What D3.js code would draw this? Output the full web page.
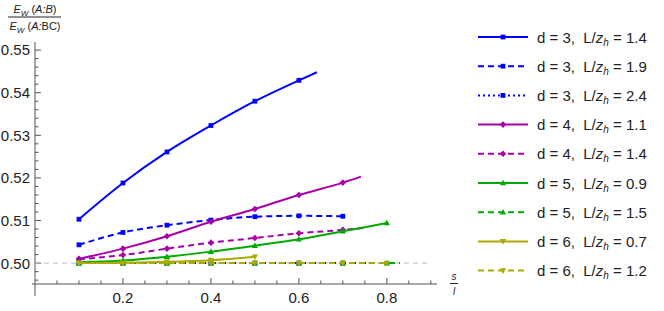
<!DOCTYPE html>
<html>
<head>
<meta charset="utf-8">
<script src="https://cdn.jsdelivr.net/npm/d3@7"></script>
<style>
  body { margin: 0; background: #fff; }
  svg { font-family: "Liberation Sans", Arial, sans-serif; }
  text { white-space: pre; }
</style>
</head>
<body>
<div id="chart"></div>
<script>
// sample points (s/l) where markers sit
const sGrid = [0.1, 0.2, 0.3, 0.4, 0.5, 0.6, 0.7, 0.8];

// E_W(A:B)/E_W(A:BC) at each sGrid point, plus the [s, value] where the curve stops
const d3L14 = [0.5103, 0.5188, 0.5261, 0.5323, 0.5380, 0.5429];
const d3L14End = [0.641, 0.5448];
const d3L19 = [0.5043, 0.5072, 0.5089, 0.5101, 0.5109, 0.5111, 0.5110];
const d3L19End = [0.7, 0.5110];
const d3L24 = [0.5000, 0.5000, 0.5000, 0.5000, 0.5000, 0.5000, 0.5000];
const d3L24End = [0.77, 0.5000];
const d4L11 = [0.5010, 0.5034, 0.5063, 0.5097, 0.5127, 0.5160, 0.5189];
const d4L11End = [0.741, 0.5203];
const d4L14 = [0.5009, 0.5019, 0.5034, 0.5048, 0.5059, 0.5070, 0.5078];
const d4L14End = [0.754, 0.5083];
const d5L09 = [0.5002, 0.5006, 0.5015, 0.5027, 0.5041, 0.5056, 0.5075, 0.5094];
const d5L09End = [0.8, 0.5094];
const d5L15 = [0.5000, 0.5000, 0.5000, 0.5000, 0.5000, 0.5000, 0.5000, 0.5000];
const d5L15End = [0.83, 0.5000];
const d6L07 = [0.5000, 0.5001, 0.5003, 0.5007, 0.5015];
const d6L07End = [0.5, 0.5015];
const d6L12 = [0.5000, 0.5000, 0.5000, 0.5000, 0.5000, 0.5000, 0.5000, 0.5000];
const d6L12End = [0.8, 0.5000];

const legendD = ["3", "3", "3", "4", "4", "5", "5", "6", "6"];
const legendL = ["1.4", "1.9", "2.4", "1.1", "1.4", "0.9", "1.5", "0.7", "1.2"];

const xTicks = [0.2, 0.4, 0.6, 0.8];
const yTicks = [0.50, 0.51, 0.52, 0.53, 0.54, 0.55];

const BLUE = "#0000ff", PURPLE = "#aa00aa", GREEN = "#00aa00", OLIVE = "#aaaa00";

const series = [
  { v: d3L14, end: d3L14End, color: BLUE, dash: null, marker: "square" },
  { v: d3L19, end: d3L19End, color: BLUE, dash: "6,4", marker: "square" },
  { v: d3L24, end: d3L24End, color: BLUE, dash: "2,3", marker: "square" },
  { v: d4L11, end: d4L11End, color: PURPLE, dash: null, marker: "diamond" },
  { v: d4L14, end: d4L14End, color: PURPLE, dash: "6,4", marker: "diamond" },
  { v: d5L09, end: d5L09End, color: GREEN, dash: null, marker: "up" },
  { v: d5L15, end: d5L15End, color: GREEN, dash: "6,4", marker: "up" },
  { v: d6L07, end: d6L07End, color: OLIVE, dash: null, marker: "down" },
  { v: d6L12, end: d6L12End, color: OLIVE, dash: "6,4", marker: "down" }
];

const W = 664, H = 311;
const svg = d3.select("#chart").append("svg")
  .attr("width", W).attr("height", H);

const x = d3.scaleLinear().domain([0, 0.914]).range([35, 437]);
const y = d3.scaleLinear().domain([0.4951, 0.5519]).range([284, 42]);

// axes
const axisColor = "#555";
svg.append("line").attr("x1", 35).attr("x2", 35).attr("y1", 42).attr("y2", 296)
  .attr("stroke", axisColor).attr("stroke-width", 1);
svg.append("line").attr("x1", 32).attr("x2", 437).attr("y1", 284).attr("y2", 284)
  .attr("stroke", axisColor).attr("stroke-width", 1);

// y ticks
const yMinor = d3.range(496, 551, 2).map(d => d / 1000);
svg.append("g").selectAll("line").data(yMinor).join("line")
  .attr("x1", 35).attr("x2", d => (Math.round(d * 1000) % 10 === 0 ? 41 : 38.5))
  .attr("y1", d => y(d)).attr("y2", d => y(d))
  .attr("stroke", axisColor);
svg.append("g").selectAll("text").data(yTicks).join("text")
  .attr("x", 30).attr("y", d => y(d)).attr("dy", "0.36em")
  .attr("text-anchor", "end").attr("font-size", 15).attr("fill", "#222")
  .text(d => d3.format(".2f")(d));

// x ticks
const xMinor = d3.range(1, 19).map(d => d * 0.05);
svg.append("g").selectAll("line").data(xMinor).join("line")
  .attr("x1", d => x(d)).attr("x2", d => x(d))
  .attr("y1", 284).attr("y2", d => (Math.abs(d * 5 - Math.round(d * 5)) < 1e-6 ? 278 : 280.5))
  .attr("stroke", axisColor);
svg.append("g").selectAll("text").data(xTicks).join("text")
  .attr("x", d => x(d)).attr("y", 303)
  .attr("text-anchor", "middle").attr("font-size", 15).attr("fill", "#222")
  .text(d => d3.format(".1f")(d));

// axis labels (fractions)
const yl = svg.append("g").attr("font-size", 11).attr("fill", "#222").attr("text-anchor", "middle");
const t1 = yl.append("text").attr("x", 35).attr("y", 13);
t1.append("tspan").attr("font-style", "italic").text("E");
t1.append("tspan").attr("font-style", "italic").attr("font-size", 8).attr("dy", 3).text("W");
t1.append("tspan").attr("dy", -3).text(" (");
t1.append("tspan").attr("font-style", "italic").text("A:B");
t1.append("tspan").text(")");
yl.append("line").attr("x1", 8).attr("x2", 61).attr("y1", 17).attr("y2", 17).attr("stroke", "#222");
const t2 = yl.append("text").attr("x", 35).attr("y", 30);
t2.append("tspan").attr("font-style", "italic").text("E");
t2.append("tspan").attr("font-style", "italic").attr("font-size", 8).attr("dy", 3).text("W");
t2.append("tspan").attr("dy", -3).text(" (");
t2.append("tspan").attr("font-style", "italic").text("A:");
t2.append("tspan").text("BC)");

const xl = svg.append("g").attr("font-size", 10).attr("fill", "#222").attr("font-style", "italic")
  .attr("text-anchor", "middle");
xl.append("text").attr("x", 454).attr("y", 280).text("s");
xl.append("line").attr("x1", 450).attr("x2", 458).attr("y1", 283.5).attr("y2", 283.5).attr("stroke", "#222");
xl.append("text").attr("x", 454).attr("y", 295).text("l");

// reference line at 0.5
svg.append("line").attr("x1", 35).attr("x2", 427).attr("y1", y(0.5)).attr("y2", y(0.5))
  .attr("stroke", "#bbb").attr("stroke-width", 1).attr("stroke-dasharray", "5,4");

// marker shapes
function markerPath(kind) {
  if (kind === "square") return "M-2.4,-2.4H2.4V2.4H-2.4Z";
  if (kind === "diamond") return "M0,-3.3L3.3,0L0,3.3L-3.3,0Z";
  if (kind === "up") return "M0,-3.3L3.1,2.3H-3.1Z";
  return "M0,3.3L3.1,-2.3H-3.1Z";
}

const line = d3.line().x(d => x(d[0])).y(d => y(d[1])).curve(d3.curveMonotoneX);

const plot = svg.append("g");
series.forEach(s => {
  const pts = s.v.map((v, i) => [sGrid[i], v]);
  const path = pts.slice();
  if (s.end[0] > pts[pts.length - 1][0] + 1e-9) path.push(s.end);
  const g = plot.append("g");
  g.append("path").attr("d", line(path))
    .attr("fill", "none").attr("stroke", s.color).attr("stroke-width", 2)
    .attr("stroke-dasharray", s.dash);
  g.selectAll("path.m").data(pts).join("path").attr("class", "m")
    .attr("transform", d => `translate(${x(d[0])},${y(d[1])})`)
    .attr("d", markerPath(s.marker)).attr("fill", s.color);
});

// legend
const legend = svg.append("g");
series.forEach((s, i) => {
  const cy = 37 + i * 29.2;
  const g = legend.append("g").attr("transform", `translate(0,${cy})`);
  g.append("line").attr("x1", 478).attr("x2", 528).attr("y1", 0).attr("y2", 0)
    .attr("stroke", s.color).attr("stroke-width", 2).attr("stroke-dasharray", s.dash);
  g.append("path").attr("transform", "translate(503,0)").attr("d", markerPath(s.marker))
    .attr("fill", s.color);
  const t = g.append("text").attr("x", 537).attr("y", 5.5).attr("font-size", 15).attr("fill", "#222");
  t.append("tspan").text(`d = ${legendD[i]},\u00a0\u00a0L/`);
  t.append("tspan").attr("font-style", "italic").text("z");
  t.append("tspan").attr("font-style", "italic").attr("font-size", 10).attr("dy", 3).text("h");
  t.append("tspan").attr("dy", -3).text(` = ${legendL[i]}`);
});
</script>
</body>
</html>
